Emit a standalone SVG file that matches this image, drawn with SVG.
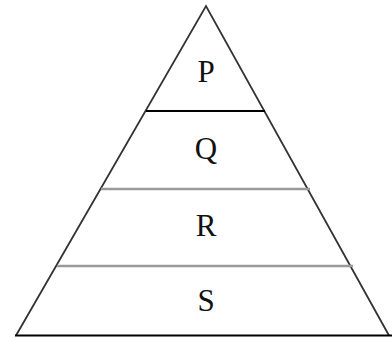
<svg xmlns="http://www.w3.org/2000/svg" width="392" height="338" viewBox="0 0 392 338">
<style>
.side{stroke:#333;stroke-width:1.8;fill:none}
.blk{stroke:#000;stroke-width:2.2}
.gry{stroke:#9a9a9a;stroke-width:2.6}
.lbl{font-family:"Liberation Serif","Times New Roman",serif;font-size:31px;fill:#111;text-anchor:middle}
</style>
<rect width="392" height="338" fill="#fff"/>
<g id="connectors">
<path class="side" d="M16,335.5 L206,6 L389,335.5"/>
<line class="blk" x1="15" y1="335.5" x2="392" y2="335.5"/>
<line class="blk" x1="146" y1="111" x2="265" y2="111"/>
<line class="gry" x1="101" y1="189" x2="310" y2="189"/>
<line class="gry" x1="57" y1="266" x2="353" y2="266"/>
</g>
<g id="P"><text class="lbl" x="206" y="82">P</text></g>
<g id="Q"><text class="lbl" x="206" y="159">Q</text></g>
<g id="R"><text class="lbl" x="206" y="236">R</text></g>
<g id="S"><text class="lbl" x="206" y="311">S</text></g>
</svg>
